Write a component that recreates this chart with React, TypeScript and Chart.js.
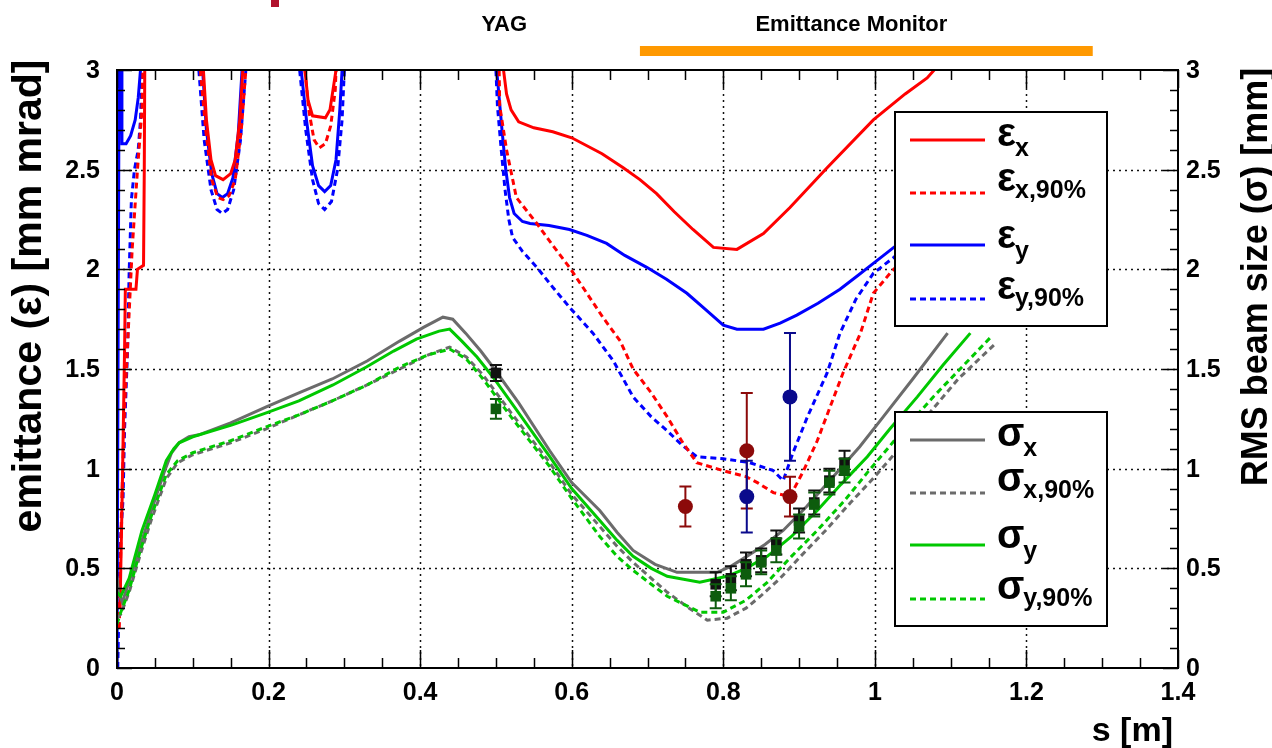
import React, { useEffect, useRef } from "react";
import { Chart, registerables } from "chart.js";
Chart.register(...registerables);

const FONT = "'Liberation Sans', Arial, Helvetica, sans-serif";

// axis ticks
const xTicks = [0, 0.2, 0.4, 0.6, 0.8, 1, 1.2, 1.4];
const xTickLabels = ["0", "0.2", "0.4", "0.6", "0.8", "1", "1.2", "1.4"];
const yTicks = [0, 0.5, 1, 1.5, 2, 2.5, 3];
const yTickLabels = ["0", "0.5", "1", "1.5", "2", "2.5", "3"];

// top annotations (s positions in m)
const yagLabelS = 0.511;
const emitMonLabelS = 0.969;
const emitMonRange = [0.69, 1.2875];

// emittance curves [s, emittance]; null = off-scale gap
const epsX: [number, number | null][] = [
  [0.004, 0.3], [0.007, 0.9], [0.01, 1.6], [0.011, 1.9], [0.025, 1.9], [0.027, 2.0], [0.035, 2.02], [0.036, 2.5], [0.037, 3.3], [0.05, null],
  [0.111, 3.3], [0.114, 3.0], [0.118, 2.75], [0.124, 2.55], [0.13, 2.47], [0.14, 2.45], [0.15, 2.48], [0.156, 2.55], [0.162, 2.75], [0.166, 3.0], [0.169, 3.3], [0.2, null],
  [0.246, 3.3], [0.248, 3.0], [0.252, 2.85], [0.258, 2.77], [0.275, 2.76], [0.281, 2.8], [0.285, 2.9], [0.289, 3.0], [0.291, 3.3], [0.4, null],
  [0.508, 3.3], [0.51, 3.0], [0.514, 2.88], [0.52, 2.8], [0.53, 2.74], [0.55, 2.71], [0.575, 2.69], [0.6, 2.66], [0.64, 2.58], [0.668, 2.51], [0.69, 2.45],
  [0.712, 2.38], [0.735, 2.29], [0.76, 2.2], [0.787, 2.11], [0.818, 2.1], [0.853, 2.18], [0.888, 2.31], [0.937, 2.51], [0.998, 2.75], [1.04, 2.88], [1.069, 2.96], [1.09, 3.05],
];
const epsX90: [number, number | null][] = [
  [0.003, 0.2], [0.006, 0.8], [0.01, 1.3], [0.015, 1.7], [0.02, 2.1], [0.027, 2.5], [0.033, 2.8], [0.036, 3.3], [0.05, null],
  [0.107, 3.3], [0.11, 3.0], [0.117, 2.7], [0.125, 2.45], [0.133, 2.36], [0.14, 2.35], [0.148, 2.37], [0.156, 2.45], [0.164, 2.7], [0.17, 3.0], [0.173, 3.3], [0.2, null],
  [0.245, 3.3], [0.248, 3.0], [0.253, 2.8], [0.26, 2.65], [0.267, 2.61], [0.275, 2.63], [0.282, 2.72], [0.288, 2.9], [0.292, 3.3], [0.4, null],
  [0.503, 3.3], [0.505, 2.82], [0.514, 2.6], [0.527, 2.36], [0.554, 2.23], [0.575, 2.12], [0.597, 2.01], [0.62, 1.88], [0.641, 1.76], [0.664, 1.64], [0.681, 1.5],
  [0.705, 1.38], [0.726, 1.26], [0.745, 1.14], [0.765, 1.03], [0.8, 0.99], [0.83, 0.96], [0.845, 0.93], [0.866, 0.88], [0.888, 0.86], [0.906, 0.99], [0.924, 1.14],
  [0.941, 1.31], [0.958, 1.48], [0.981, 1.68], [0.998, 1.88], [1.02, 1.98], [1.05, 2.1],
];
const epsY: [number, number | null][] = [
  [0.0, 0.0], [0.003, 3.3], [0.0055, 3.3], [0.0065, 2.63], [0.012, 2.63], [0.018, 2.67], [0.024, 2.75], [0.028, 2.86], [0.031, 3.0], [0.033, 3.3], [0.05, null],
  [0.111, 3.3], [0.113, 3.0], [0.118, 2.7], [0.125, 2.48], [0.132, 2.38], [0.139, 2.36], [0.146, 2.38], [0.153, 2.46], [0.16, 2.68], [0.165, 3.0], [0.167, 3.3], [0.2, null],
  [0.241, 3.3], [0.243, 3.0], [0.25, 2.75], [0.258, 2.52], [0.266, 2.42], [0.274, 2.39], [0.282, 2.42], [0.289, 2.55], [0.294, 2.8], [0.297, 3.0], [0.299, 3.3], [0.4, null],
  [0.499, 3.3], [0.501, 3.0], [0.508, 2.7], [0.513, 2.5], [0.518, 2.36], [0.524, 2.28], [0.535, 2.24], [0.545, 2.23], [0.57, 2.22], [0.597, 2.2], [0.62, 2.17],
  [0.646, 2.13], [0.67, 2.07], [0.699, 2.01], [0.725, 1.95], [0.752, 1.88], [0.776, 1.8], [0.8, 1.72], [0.818, 1.7], [0.853, 1.7], [0.875, 1.73], [0.897, 1.77],
  [0.925, 1.83], [0.954, 1.9], [0.978, 1.97], [0.998, 2.03], [1.025, 2.11], [1.05, 2.18],
];
const epsY90: [number, number | null][] = [
  [0.001, 0.0], [0.004, 0.6], [0.008, 0.85], [0.01, 1.2], [0.014, 1.6], [0.016, 1.98], [0.019, 2.35], [0.023, 2.5], [0.028, 2.6], [0.031, 2.75], [0.033, 3.0], [0.035, 3.3], [0.05, null],
  [0.106, 3.3], [0.108, 3.0], [0.115, 2.65], [0.124, 2.4], [0.132, 2.3], [0.139, 2.28], [0.146, 2.3], [0.154, 2.4], [0.163, 2.65], [0.17, 3.0], [0.173, 3.3], [0.2, null],
  [0.238, 3.3], [0.241, 3.0], [0.249, 2.7], [0.258, 2.45], [0.266, 2.33], [0.274, 2.3], [0.283, 2.34], [0.291, 2.5], [0.297, 2.75], [0.3, 3.0], [0.303, 3.3], [0.4, null],
  [0.497, 3.3], [0.5, 3.0], [0.502, 2.82], [0.507, 2.6], [0.512, 2.4], [0.517, 2.25], [0.522, 2.16], [0.535, 2.09], [0.554, 2.01], [0.575, 1.91], [0.597, 1.81],
  [0.628, 1.68], [0.655, 1.54], [0.681, 1.36], [0.705, 1.26], [0.726, 1.19], [0.745, 1.12], [0.765, 1.06], [0.8, 1.05], [0.835, 1.03], [0.866, 0.99], [0.879, 0.94],
  [0.892, 1.08], [0.911, 1.26], [0.937, 1.48], [0.954, 1.68], [0.975, 1.85], [0.998, 1.98], [1.025, 2.06], [1.05, 2.15],
];

// beam size curves [s, sigma]
const sigX: [number, number][] = [
  [0.0, 0.46], [0.002, 0.38], [0.007, 0.33], [0.02, 0.48], [0.033, 0.64], [0.048, 0.82], [0.062, 0.98], [0.072, 1.08], [0.082, 1.13], [0.095, 1.16],
  [0.108, 1.17], [0.15, 1.23], [0.197, 1.31], [0.24, 1.38], [0.284, 1.45], [0.33, 1.54], [0.373, 1.64], [0.405, 1.71], [0.43, 1.76], [0.443, 1.75],
  [0.46, 1.68], [0.48, 1.59], [0.496, 1.51], [0.53, 1.33], [0.571, 1.09], [0.6, 0.93], [0.637, 0.79], [0.66, 0.68], [0.681, 0.59], [0.71, 0.52],
  [0.739, 0.48], [0.792, 0.48], [0.81, 0.51], [0.831, 0.56], [0.855, 0.62], [0.879, 0.69], [0.91, 0.81], [0.945, 0.96], [0.98, 1.11], [1.011, 1.26],
  [1.05, 1.45], [1.096, 1.68],
];
const sigX90: [number, number][] = [
  [0.0, 0.25], [0.005, 0.27], [0.016, 0.38], [0.03, 0.56], [0.045, 0.74], [0.065, 0.95], [0.08, 1.03], [0.1, 1.07], [0.15, 1.13], [0.197, 1.2],
  [0.24, 1.27], [0.284, 1.34], [0.33, 1.42], [0.373, 1.5], [0.41, 1.57], [0.439, 1.61], [0.461, 1.56], [0.483, 1.47], [0.52, 1.28], [0.571, 1.03],
  [0.6, 0.87], [0.637, 0.71], [0.66, 0.61], [0.681, 0.53], [0.705, 0.45], [0.726, 0.38], [0.755, 0.3], [0.779, 0.24], [0.805, 0.25], [0.83, 0.3],
  [0.849, 0.36], [0.875, 0.45], [0.902, 0.56], [0.935, 0.69], [0.968, 0.83], [1.0, 0.96], [1.034, 1.11], [1.07, 1.27], [1.11, 1.45], [1.157, 1.62],
];
const sigY: [number, number][] = [
  [0.0, 0.38], [0.005, 0.36], [0.016, 0.45], [0.033, 0.69], [0.05, 0.87], [0.065, 1.04], [0.075, 1.1], [0.082, 1.13], [0.1, 1.16], [0.152, 1.22],
  [0.197, 1.28], [0.24, 1.34], [0.285, 1.42], [0.329, 1.51], [0.365, 1.59], [0.395, 1.65], [0.425, 1.69], [0.439, 1.7], [0.455, 1.64], [0.475, 1.56],
  [0.496, 1.46], [0.53, 1.28], [0.571, 1.06], [0.6, 0.9], [0.637, 0.74], [0.66, 0.64], [0.681, 0.56], [0.705, 0.5], [0.726, 0.46], [0.769, 0.43],
  [0.805, 0.46], [0.83, 0.5], [0.858, 0.56], [0.89, 0.66], [0.924, 0.79], [0.955, 0.92], [0.99, 1.06], [1.02, 1.2], [1.056, 1.36], [1.09, 1.52], [1.126, 1.68],
];
const sigY90: [number, number][] = [
  [0.0, 0.22], [0.005, 0.28], [0.016, 0.39], [0.03, 0.58], [0.045, 0.76], [0.065, 0.97], [0.08, 1.04], [0.1, 1.08], [0.15, 1.14], [0.197, 1.21],
  [0.24, 1.27], [0.284, 1.34], [0.33, 1.42], [0.373, 1.51], [0.41, 1.57], [0.439, 1.6], [0.461, 1.55], [0.483, 1.45], [0.52, 1.26], [0.571, 1.01],
  [0.6, 0.85], [0.637, 0.66], [0.66, 0.56], [0.681, 0.49], [0.705, 0.42], [0.726, 0.36], [0.769, 0.28], [0.8, 0.28], [0.83, 0.34], [0.858, 0.43],
  [0.89, 0.56], [0.924, 0.69], [0.96, 0.84], [0.99, 0.98], [1.03, 1.16], [1.077, 1.36], [1.115, 1.51], [1.153, 1.66],
];

// measurements
const epsXMeasS = [0.75, 0.831, 0.888];
const epsXMeas = [0.81, 1.09, 0.86];
const epsXMeasErr = [0.1, 0.29, 0.1];
const epsYMeasS = [0.831, 0.888];
const epsYMeas = [0.86, 1.36];
const epsYMeasErr = [0.18, 0.32];
const sigMeasS = [0.5, 0.79, 0.81, 0.83, 0.85, 0.87, 0.9, 0.92, 0.94, 0.96];
const sigXMeas = [1.48, 0.42, 0.45, 0.52, 0.54, 0.63, 0.74, 0.83, 0.94, 1.03];
const sigXMeasErr = [0.04, 0.06, 0.06, 0.06, 0.06, 0.06, 0.06, 0.06, 0.06, 0.06];
const sigYMeas = [1.3, 0.36, 0.4, 0.47, 0.53, 0.59, 0.71, 0.82, 0.93, 0.99];
const sigYMeasErr = [0.05, 0.06, 0.06, 0.06, 0.06, 0.06, 0.06, 0.06, 0.06, 0.06];

const RED = "#ff0000";
const BLUE = "#0000ff";
const GRAY = "#6b6b6b";
const GREEN = "#00c800";
const DASH = [6, 4];

const pts = (arr: [number, number | null][]) => arr.map(([x, y]) => ({ x, y }));
const mpts = (s: number[], v: number[]) => s.map((x, i) => ({ x, y: v[i] }));

const legendEps = [
  { sym: "ε", sub: "x", color: RED, dash: [] as number[], o1: 6, o2: 16 },
  { sym: "ε", sub: "x,90%", color: RED, dash: DASH, o1: -2, o2: 5 },
  { sym: "ε", sub: "y", color: BLUE, dash: [] as number[], o1: 3, o2: 14 },
  { sym: "ε", sub: "y,90%", color: BLUE, dash: DASH, o1: 0, o2: 7 },
];
const legendSig = [
  { sym: "σ", sub: "x", color: GRAY, dash: [] as number[], o1: 6, o2: 16 },
  { sym: "σ", sub: "x,90%", color: GRAY, dash: DASH, o1: -2, o2: 5 },
  { sym: "σ", sub: "y", color: GREEN, dash: [] as number[], o1: 3, o2: 14 },
  { sym: "σ", sub: "y,90%", color: GREEN, dash: DASH, o1: 0, o2: 7 },
];

function drawLegend(ctx: CanvasRenderingContext2D, bx: number, by: number, entries: typeof legendEps) {
  const w = 212, h = 214;
  ctx.save();
  ctx.fillStyle = "#fff";
  ctx.fillRect(bx, by, w, h);
  ctx.lineWidth = 2;
  ctx.strokeStyle = "#000";
  ctx.setLineDash([]);
  ctx.strokeRect(bx, by, w, h);
  const offs = [28, 81, 133, 187];
  entries.forEach((e, i) => {
    const y = by + offs[i];
    ctx.beginPath();
    ctx.setLineDash(e.dash);
    ctx.strokeStyle = e.color;
    ctx.lineWidth = 3;
    ctx.moveTo(bx + 15, y);
    ctx.lineTo(bx + 90, y);
    ctx.stroke();
    ctx.setLineDash([]);
    ctx.fillStyle = "#000";
    ctx.textAlign = "left";
    ctx.textBaseline = "alphabetic";
    ctx.font = `bold 40px ${FONT}`;
    ctx.fillText(e.sym, bx + 102, y + e.o1);
    const sw = ctx.measureText(e.sym).width;
    ctx.font = `bold 25px ${FONT}`;
    ctx.fillText(e.sub, bx + 102 + sw - 1, y + e.o2);
  });
  ctx.restore();
}

const framePlugin = {
  id: "rootFrame",
  beforeDatasetsDraw(chart: any) {
    const { ctx, chartArea: a, scales } = chart;
    const xs = scales.x, ys = scales.y;
    ctx.save();
    ctx.strokeStyle = "#111";
    ctx.lineWidth = 1.5;
    ctx.setLineDash([2, 4]);
    xTicks.forEach((t) => {
      if (t <= 0 || t >= 1.4) return;
      const px = Math.round(xs.getPixelForValue(t)) + 0.5;
      ctx.beginPath(); ctx.moveTo(px, a.top); ctx.lineTo(px, a.bottom); ctx.stroke();
    });
    yTicks.forEach((t) => {
      if (t <= 0 || t >= 3) return;
      const py = Math.round(ys.getPixelForValue(t)) + 0.5;
      ctx.beginPath(); ctx.moveTo(a.left, py); ctx.lineTo(a.right, py); ctx.stroke();
    });
    ctx.restore();
  },
  beforeDatasetDraw(chart: any, args: any) {
    const ds = chart.data.datasets[args.index];
    if (!ds.errors) return;
    const { ctx } = chart;
    const ysc = chart.scales[ds.yAxisID || "y"];
    ctx.save();
    ctx.strokeStyle = ds.errColor;
    ctx.lineWidth = 2;
    ctx.setLineDash([]);
    args.meta.data.forEach((el: any, i: number) => {
      const d = ds.data[i];
      const top = ysc.getPixelForValue(d.y + ds.errors[i]);
      const bot = ysc.getPixelForValue(d.y - ds.errors[i]);
      ctx.beginPath();
      ctx.moveTo(el.x, top); ctx.lineTo(el.x, bot);
      ctx.moveTo(el.x - 6, top); ctx.lineTo(el.x + 6, top);
      ctx.moveTo(el.x - 6, bot); ctx.lineTo(el.x + 6, bot);
      ctx.stroke();
    });
    ctx.restore();
  },
  afterDatasetsDraw(chart: any) {
    const { ctx, chartArea: a, scales } = chart;
    const xs = scales.x, ys = scales.y;
    ctx.save();
    ctx.setLineDash([]);
    ctx.strokeStyle = "#000";
    ctx.lineWidth = 1.5;
    // minor/major ticks, inward
    for (let i = 0; i <= 28; i++) {
      const v = i * 0.05;
      const px = Math.round(xs.getPixelForValue(v)) + 0.5;
      const len = i % 4 === 0 ? 18 : 10;
      ctx.beginPath();
      ctx.moveTo(px, a.bottom); ctx.lineTo(px, a.bottom - len);
      ctx.moveTo(px, a.top); ctx.lineTo(px, a.top + len);
      ctx.stroke();
    }
    for (let i = 0; i <= 30; i++) {
      const v = i * 0.1;
      const py = Math.round(ys.getPixelForValue(v)) + 0.5;
      const len = i % 5 === 0 ? 15 : 8;
      ctx.beginPath();
      ctx.moveTo(a.left, py); ctx.lineTo(a.left + len, py);
      ctx.moveTo(a.right, py); ctx.lineTo(a.right - len, py);
      ctx.stroke();
    }
    ctx.lineWidth = 2;
    ctx.strokeRect(a.left, a.top, a.right - a.left, a.bottom - a.top);
    ctx.restore();

    drawLegend(ctx, 895, 112, legendEps);
    drawLegend(ctx, 895, 412, legendSig);

    ctx.save();
    ctx.fillStyle = "#000";
    ctx.font = `bold 25px ${FONT}`;
    // x tick labels
    ctx.textAlign = "center";
    ctx.textBaseline = "alphabetic";
    xTicks.forEach((t, i) => {
      ctx.fillText(xTickLabels[i], xs.getPixelForValue(t), 700);
    });
    // y tick labels
    ctx.textBaseline = "middle";
    yTicks.forEach((t, i) => {
      const py = ys.getPixelForValue(t) + 1;
      ctx.textAlign = "right";
      ctx.fillText(yTickLabels[i], a.left - 17, py);
      ctx.textAlign = "left";
      ctx.fillText(yTickLabels[i], a.right + 8, py);
    });
    // axis titles
    ctx.textAlign = "right";
    ctx.textBaseline = "alphabetic";
    ctx.font = `bold 34px ${FONT}`;
    ctx.fillText("s [m]", 1173, 741);

    ctx.save();
    ctx.translate(30, 296);
    ctx.rotate(-Math.PI / 2);
    ctx.textAlign = "center";
    ctx.textBaseline = "middle";
    ctx.font = `bold 41px ${FONT}`;
    ctx.fillText("emittance (ε) [mm mrad]", 0, 0);
    ctx.restore();

    ctx.save();
    ctx.translate(1257, 277);
    ctx.rotate(-Math.PI / 2);
    ctx.textAlign = "center";
    ctx.textBaseline = "middle";
    ctx.font = `bold 36px ${FONT}`;
    ctx.fillText("RMS beam size (σ) [mm]", 0, 0);
    ctx.restore();

    // top annotations
    ctx.font = `bold 22px ${FONT}`;
    ctx.textAlign = "center";
    ctx.textBaseline = "alphabetic";
    ctx.fillText("YAG", xs.getPixelForValue(yagLabelS), 31);
    ctx.fillText("Emittance Monitor", xs.getPixelForValue(emitMonLabelS), 31);
    ctx.fillStyle = "#ff9900";
    const bx0 = xs.getPixelForValue(emitMonRange[0]);
    const bx1 = xs.getPixelForValue(emitMonRange[1]);
    ctx.fillRect(bx0, 46, bx1 - bx0, 10);
    ctx.fillStyle = "#b0122d";
    ctx.fillRect(271, 0, 8, 7);
    ctx.restore();
  },
};

export default function App() {
  const ref = useRef<HTMLCanvasElement>(null);
  useEffect(() => {
    if (!ref.current) return;
    const line = (label: string, data: any, color: string, dashed: boolean, axis: string, order: number) => ({
      type: "line" as const,
      label,
      data,
      borderColor: color,
      backgroundColor: color,
      borderWidth: 3,
      borderDash: dashed ? DASH : [],
      pointRadius: 0,
      fill: false,
      spanGaps: false,
      tension: 0,
      yAxisID: axis,
      order,
    });
    const marks = (label: string, data: any, color: string, errColor: string, style: string, r: number, axis: string, errors: number[]) => ({
      type: "scatter" as const,
      label,
      data,
      showLine: false,
      pointStyle: style,
      pointRadius: r,
      pointBackgroundColor: color,
      pointBorderColor: color,
      pointBorderWidth: 0,
      yAxisID: axis,
      order: 0,
      errors,
      errColor,
    });
    const chart = new Chart(ref.current, {
      type: "line",
      data: {
        datasets: [
          marks("σy meas", mpts(sigMeasS, sigYMeas), "#0d5c0d", "#0d5c0d", "rect", 7.5, "y2", sigYMeasErr),
          marks("σx meas", mpts(sigMeasS, sigXMeas), "#111111", "#111111", "rect", 7.5, "y2", sigXMeasErr),
          marks("εy meas", mpts(epsYMeasS, epsYMeas), "#0a0a8c", "#0a0a8c", "circle", 7.5, "y", epsYMeasErr),
          marks("εx meas", mpts(epsXMeasS, epsXMeas), "#8c0a0a", "#8c0a0a", "circle", 7.5, "y", epsXMeasErr),
          line("σy", pts(sigY), GREEN, false, "y2", 1),
          line("σy,90%", pts(sigY90), GREEN, true, "y2", 2),
          line("σx", pts(sigX), GRAY, false, "y2", 3),
          line("σx,90%", pts(sigX90), GRAY, true, "y2", 4),
          line("εx", pts(epsX), RED, false, "y", 5),
          line("εx,90%", pts(epsX90), RED, true, "y", 6),
          line("εy", pts(epsY), BLUE, false, "y", 7),
          line("εy,90%", pts(epsY90), BLUE, true, "y", 8),
        ] as any,
      },
      options: {
        responsive: false,
        animation: false,
        devicePixelRatio: 1,
        events: [],
        layout: { padding: { left: 117, right: 94, top: 70, bottom: 80 } },
        plugins: { legend: { display: false }, tooltip: { enabled: false } },
        scales: {
          x: { type: "linear", min: 0, max: 1.4, display: false },
          y: { type: "linear", min: 0, max: 3, display: false },
          y2: { type: "linear", min: 0, max: 3, display: false, position: "right" },
        },
      } as any,
      plugins: [framePlugin as any],
    });
    return () => chart.destroy();
  }, []);
  return (
    <div style={{ position: "absolute", left: 0, top: 0, width: 1272, height: 748, background: "#fff" }}>
      <canvas ref={ref} width={1272} height={748} style={{ display: "block" }} />
    </div>
  );
}
